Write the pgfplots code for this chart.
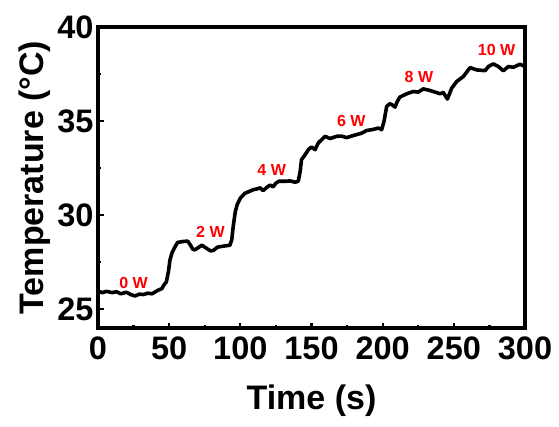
\documentclass[border=0pt]{standalone}
\usepackage{fontspec}
\setmainfont{Liberation Sans}
\usepackage{pgfplots}
\pgfplotsset{compat=1.18}

\begin{document}
\begin{tikzpicture}
\begin{axis}[
    name=ax,
    scale only axis,
    width=427pt, height=301pt,
    xmin=0, xmax=300, ymin=24, ymax=40,
    xtick={0,50,...,300}, ytick={25,30,35,40},
    minor x tick num=1, minor y tick num=1,
    xtick pos=bottom, ytick pos=left,
    tick align=inside,
    major tick length=5.5pt, minor tick length=3pt,
    every tick/.style={line width=2.2pt, black},
    axis line style={line width=3.4pt},
    /pgf/number format/assume math mode=true,
    ticklabel style={font=\fontsize{32.5}{32.5}\selectfont\bfseries},
    xticklabel style={yshift=-5pt},
    yticklabel style={xshift=-1pt},
    xlabel={Time (s)}, ylabel={Temperature (°C)},
    label style={font=\fontsize{34}{34}\selectfont\bfseries},
    xlabel style={yshift=-18pt},
    ylabel style={yshift=0pt},
    clip=false,
]
% measured temperature trace
\addplot[black, line width=3.6pt, line join=round] coordinates {
(0,25.97) (3,25.88) (6,25.95) (10,25.88) (13,25.93) (16,25.82) (20,25.9)
(23,25.78) (26,25.7) (29,25.8) (32,25.78) (35,25.85) (38,25.82) (42,26.0)
(45,26.1) (46,26.25) (48,26.45) (49.5,27.0) (50.5,27.6) (52,28.0) (54,28.3)
(56,28.55) (60,28.6) (63,28.62) (65,28.4) (66.5,28.2) (68,28.15) (71,28.3)
(73,28.4) (75,28.3) (77,28.2) (79,28.1) (81,28.12) (84,28.3) (88,28.35)
(92.7,28.4) (94,28.7) (95,29.4) (96.5,30.2) (98,30.6) (100,30.9) (103,31.15)
(106,31.25) (109,31.35) (112,31.4) (114,31.45) (116,31.3) (119,31.5)
(121,31.6) (123,31.5) (125,31.7) (127,31.8) (132,31.8) (135,31.82)
(138.5,31.75) (140.7,31.8) (142,32.3) (143,32.95) (145.4,33.2) (148,33.5)
(150,33.62) (152.5,33.48) (154.8,33.84) (157,34.0) (159.5,34.19) (163,34.07)
(167.7,34.19) (171,34.2) (174.7,34.12) (178,34.2) (181.7,34.28) (185,34.35)
(188.8,34.5) (193,34.55) (197,34.63) (199.3,34.54) (201,35.0) (202.8,35.78)
(205,35.92) (207,35.85) (208.7,35.74) (210,36.0) (212,36.27) (216.9,36.45)
(221.5,36.57) (225,36.54) (228.5,36.71) (232,36.65) (235.6,36.57)
(240.3,36.45) (242.6,36.52) (245.5,36.17) (248.5,36.75) (252,37.1)
(256.7,37.37) (261.4,37.84) (266,37.72) (272,37.68) (274.3,37.9)
(277.7,38.04) (281.3,37.9) (284.8,37.67) (288.3,37.9) (291.8,37.86)
(296.5,38.02) (300,37.9)
};
\begin{scope}[every node/.style={red, font=\fontsize{16}{16}\selectfont\bfseries}]
\node at (axis cs:25,26.4) {0 W};
\node at (axis cs:79,29.1) {2 W};
\node at (axis cs:122,32.4) {4 W};
\node at (axis cs:178,35.0) {6 W};
\node at (axis cs:225.5,37.35) {8 W};
\node at (axis cs:280,38.8) {10 W};
\end{scope}
\end{axis}
\path ([shift={(-98pt,-98pt)}]ax.south west) rectangle ([shift={(34pt,27pt)}]ax.north east);
\end{tikzpicture}
\end{document}
